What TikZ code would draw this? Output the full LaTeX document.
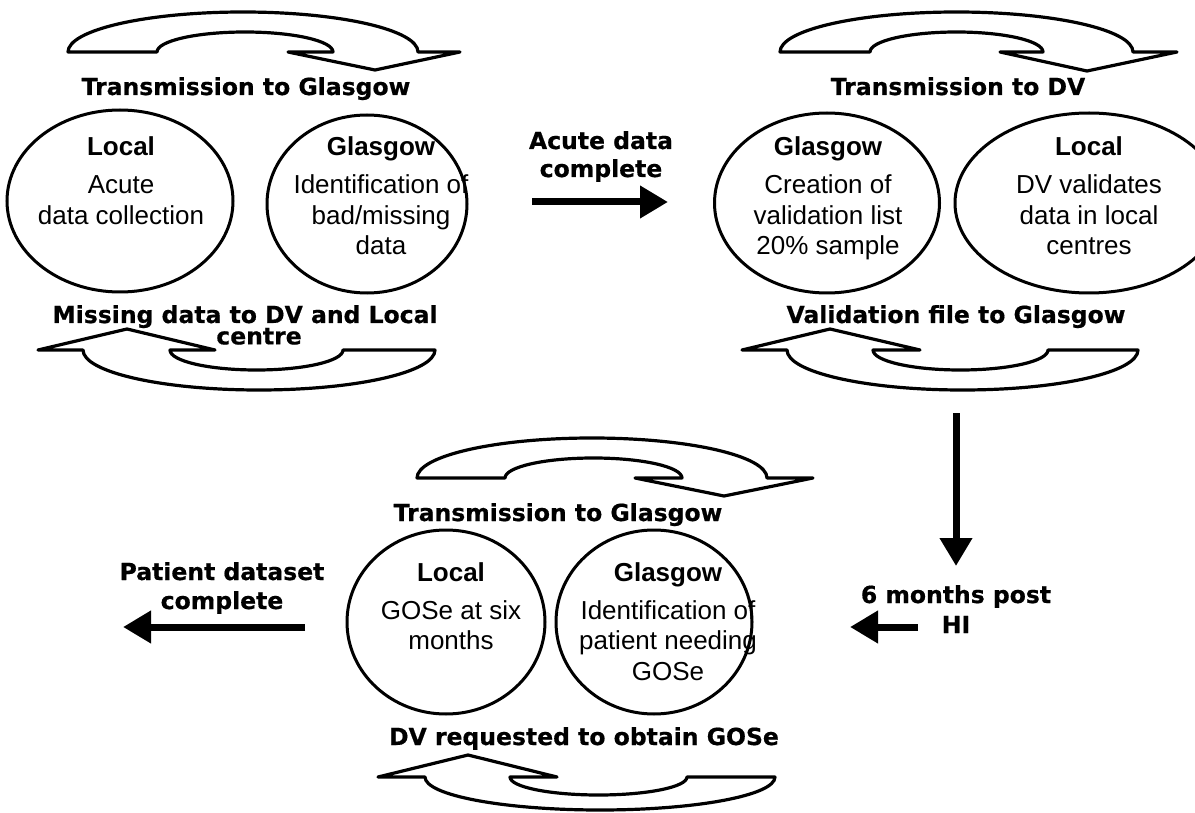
\documentclass[tikz,border=0pt]{standalone}
\usepackage{fontspec}
\setmainfont{Liberation Sans}
\newfontfamily\lblfont[FakeBold=0.6]{DejaVu Sans}
\usetikzlibrary{shapes.geometric,arrows.meta}
\newcommand\mlines[1]{\begin{tabular}[t]{@{}c@{}}#1\end{tabular}}
\begin{document}
\begin{tikzpicture}[x=1pt,y=-1pt,
 lbl/.style={font=\lblfont\bfseries\fontsize{23.5}{29}\selectfont, inner sep=0pt, anchor=base},
 etxt/.style={font=\fontsize{26}{30.5}\selectfont, inner sep=0pt, anchor=base},
 ell/.style={draw, ellipse, line width=3pt, inner sep=0pt},
 curvearrow/.style={draw, line width=3.2pt, line join=round, fill=white},
 bigarrow/.style={line width=7pt, -{Triangle[length=28pt,width=31pt]}}]
\fill[white] (0,0) rectangle (1195,813);
\useasboundingbox (0,0) rectangle (1195,813);

% ellipses
\node[ell, minimum width=226pt, minimum height=182pt] (e1) at (120,201) {};
\node[ell, minimum width=200pt, minimum height=178pt] (e2) at (367,204) {};
\node[ell, minimum width=225pt, minimum height=180pt] (e3) at (827,203) {};
\node[ell, minimum width=268pt, minimum height=180pt] (e4) at (1089,203) {};
\node[ell, minimum width=198pt, minimum height=184pt] (e5) at (446,622) {};
\node[ell, minimum width=196pt, minimum height=184pt] (e6) at (654,622) {};

% ellipse texts
\node[etxt] (t1) at (121,156) {\mlines{\textbf{Local}\\[7.5pt]Acute\\data collection}};
\node[etxt] (t2) at (381,156) {\mlines{\textbf{Glasgow}\\[7.5pt]Identification of\\bad/missing\\data}};
\node[etxt] (t3) at (828,156) {\mlines{\textbf{Glasgow}\\[7.5pt]Creation of\\validation list\\20\% sample}};
\node[etxt] (t4) at (1089,156) {\mlines{\textbf{Local}\\[7.5pt]DV validates\\data in local\\centres}};
\node[etxt] (t5) at (451,581) {\mlines{\textbf{Local}\\[7.5pt]GOSe at six\\months}};
\node[etxt] (t6) at (668,581) {\mlines{\textbf{Glasgow}\\[7.5pt]Identification of\\patient needing\\GOSe}};

% curved arrows, top row
\draw[curvearrow] (68,52) arc[start angle=180,end angle=360,x radius=175,y radius=40]
  -- (460,52) -- (375,70) -- (288,52) -- (333,52)
  arc[start angle=0,end angle=-180,x radius=88,y radius=20] -- cycle;
\draw[curvearrow] (780,52) arc[start angle=180,end angle=360,x radius=176.5,y radius=40]
  -- (1177,52) -- (1087,71) -- (1000,52) -- (1043,52)
  arc[start angle=0,end angle=-180,x radius=86.5,y radius=20] -- cycle;
\draw[curvearrow] (435,350) arc[start angle=0,end angle=180,x radius=176,y radius=40]
  -- (38,350) -- (127,329) -- (215,350) -- (170,350)
  arc[start angle=180,end angle=0,x radius=86.5,y radius=20] -- cycle;
\draw[curvearrow] (1138,350) arc[start angle=0,end angle=180,x radius=175.5,y radius=40]
  -- (742,350) -- (830,329) -- (920,350) -- (873,350)
  arc[start angle=180,end angle=0,x radius=87.5,y radius=20] -- cycle;
% curved arrows, bottom row
\draw[curvearrow] (417,478) arc[start angle=180,end angle=360,x radius=175,y radius=40]
  -- (813,478) -- (724,496) -- (635,478) -- (682,478)
  arc[start angle=0,end angle=-180,x radius=88.5,y radius=20] -- cycle;
\draw[curvearrow] (775,777) arc[start angle=0,end angle=180,x radius=175,y radius=33]
  -- (378,777) -- (468,755) -- (557,777) -- (510,777)
  arc[start angle=180,end angle=0,x radius=88.5,y radius=18] -- cycle;

% labels
\node[lbl] (l1) at (246,95) {Transmission to Glasgow};
\node[lbl] (l2) at (958,95) {Transmission to DV};
\node[lbl, font=\lblfont\bfseries\fontsize{23.5}{23}\selectfont] (l3) at (245,323) {\mlines{Missing data to DV and Local\\[-2pt]\hspace*{28pt}centre}};
\node[lbl] (l4) at (956,323) {Validation file to Glasgow};
\node[lbl] (l5) at (601,149) {\mlines{Acute data\\[-1pt]complete}};
\node[lbl] (l6) at (558,521) {Transmission to Glasgow};
\node[lbl] (l7) at (584,745) {DV requested to obtain GOSe};
\node[lbl] (l8) at (956,603) {\mlines{6 months post\\[1pt]HI}};
\node[lbl] (l9) at (222,580) {\mlines{Patient dataset\\complete}};

% straight arrows
\coordinate (a1s) at (532,202); \coordinate (a1e) at (668,202);
\coordinate (a2s) at (956,413); \coordinate (a2e) at (956,566);
\coordinate (a3s) at (918,627); \coordinate (a3e) at (850,627);
\coordinate (a4s) at (305,627); \coordinate (a4e) at (123,627);
\draw[bigarrow] (a1s) -- (a1e);
\draw[bigarrow] (a2s) -- (a2e);
\draw[bigarrow] (a3s) -- (a3e);
\draw[bigarrow] (a4s) -- (a4e);
\end{tikzpicture}
\end{document}
